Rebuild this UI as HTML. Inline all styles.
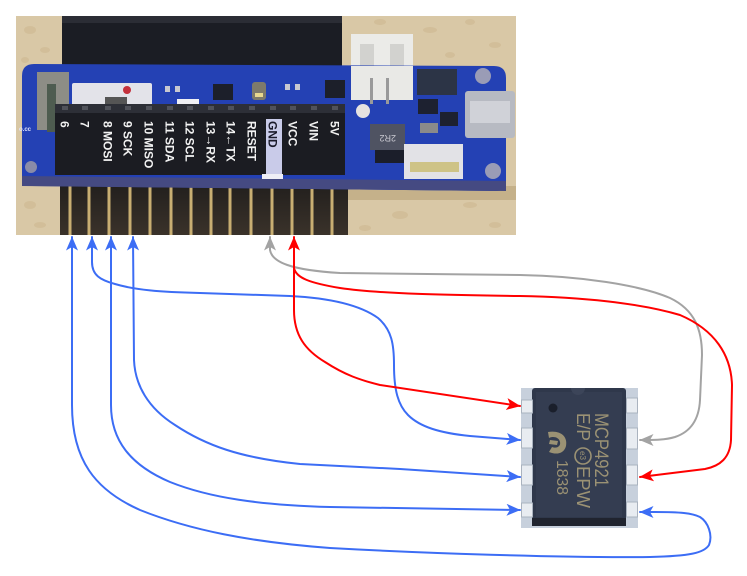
<!DOCTYPE html>
<html><head><meta charset="utf-8"><style>
html,body{margin:0;padding:0;background:#fff;}
svg{display:block;}
</style></head><body>
<svg width="747" height="576" viewBox="0 0 747 576" xmlns="http://www.w3.org/2000/svg" font-family="'Liberation Sans', sans-serif">
<defs>
 <marker id="mb" viewBox="0 0 14 12" refX="13.5" refY="6" markerWidth="14" markerHeight="12" markerUnits="userSpaceOnUse" orient="auto-start-reverse"><path d="M0,0 L14,6 L0,12 L3.5,6 Z" fill="#3c6df5"/></marker>
 <marker id="mr" viewBox="0 0 14 12" refX="13.5" refY="6" markerWidth="14" markerHeight="12" markerUnits="userSpaceOnUse" orient="auto-start-reverse"><path d="M0,0 L14,6 L0,12 L3.5,6 Z" fill="#ff0000"/></marker>
 <marker id="mg" viewBox="0 0 14 12" refX="13.5" refY="6" markerWidth="14" markerHeight="12" markerUnits="userSpaceOnUse" orient="auto-start-reverse"><path d="M0,0 L14,6 L0,12 L3.5,6 Z" fill="#a3a3a3"/></marker>
 <clipPath id="ph"><rect x="16" y="16" width="500" height="219"/></clipPath>
 <linearGradient id="pinbg" x1="0" y1="0" x2="0" y2="1"><stop offset="0" stop-color="#221f1d"/><stop offset="1" stop-color="#3a322a"/></linearGradient>
</defs>
<rect width="747" height="576" fill="#fff"/>

<!-- ===== PHOTO ===== -->
<g clip-path="url(#ph)">
 <rect x="16" y="16" width="500" height="219" fill="#d9c8a6"/>
 <g fill="#c6ad82" opacity="0.35">
  <ellipse cx="30" cy="30" rx="6" ry="4"/><ellipse cx="45" cy="50" rx="5" ry="3"/><ellipse cx="25" cy="60" rx="4" ry="3"/>
  <ellipse cx="380" cy="22" rx="6" ry="3"/><ellipse cx="430" cy="30" rx="7" ry="3"/><ellipse cx="470" cy="22" rx="5" ry="3"/>
  <ellipse cx="495" cy="45" rx="6" ry="3"/><ellipse cx="450" cy="55" rx="5" ry="3"/><ellipse cx="30" cy="205" rx="6" ry="4"/>
  <ellipse cx="40" cy="225" rx="6" ry="3"/><ellipse cx="400" cy="215" rx="8" ry="4"/><ellipse cx="470" cy="205" rx="7" ry="3"/>
  <ellipse cx="495" cy="225" rx="6" ry="3"/><ellipse cx="365" cy="228" rx="6" ry="3"/>
 </g>
 <!-- shadow right under board -->
 <rect x="345" y="186" width="171" height="14" fill="#bca77f" opacity="0.7"/>
 <!-- dark area behind pins -->
 <rect x="60" y="184" width="288" height="51" fill="url(#pinbg)"/>
 <g fill="#c8ae72">
  <rect x="68.5" y="186" width="3" height="49"/><rect x="87.5" y="186" width="3" height="49"/><rect x="107.5" y="186" width="3" height="49"/>
  <rect x="128.5" y="186" width="3" height="49"/><rect x="148.5" y="186" width="3" height="49"/><rect x="169.5" y="186" width="3" height="49"/>
  <rect x="189.5" y="186" width="3" height="49"/><rect x="209.5" y="186" width="3" height="49"/><rect x="228.5" y="186" width="3" height="49"/>
  <rect x="249.5" y="186" width="3" height="49"/><rect x="270.5" y="186" width="3" height="49"/><rect x="290.5" y="186" width="3" height="49"/>
  <rect x="310.5" y="186" width="3" height="49"/><rect x="330.5" y="186" width="3" height="49"/>
 </g>
 <!-- black top header block -->
 <rect x="62" y="16" width="280" height="66" fill="#1b1d24"/>
 <rect x="62" y="16" width="280" height="7" fill="#2b2d35"/>
 <!-- white JST connector -->
 <rect x="351" y="34" width="62" height="66" fill="#ebebe8"/>
 <rect x="360" y="44" width="14" height="22" fill="#d2d2cf"/><rect x="390" y="44" width="14" height="22" fill="#d2d2cf"/>
 <rect x="355" y="70" width="54" height="6" fill="#dcdcd8"/>
 <!-- board -->
 <path d="M34,64 L494,66 Q506,66 506,78 L506,182 Q506,191 496,191 L32,186 Q22,186 22,176 L22,76 Q22,64 34,64 Z" fill="#2441b4"/>
 <polygon points="22,176 506,181 506,191 22,186" fill="#454a82"/>
 <!-- JST overlapping board -->
 <rect x="351" y="66" width="62" height="34" fill="#e9e9e6"/>
 <rect x="370" y="78" width="3" height="26" fill="#9a9a9a"/><rect x="386" y="78" width="3" height="26" fill="#9a9a9a"/>
 <!-- left switch -->
 <rect x="37" y="72" width="32" height="58" fill="#8d8d86"/>
 <rect x="47" y="84" width="9" height="48" fill="#4e5c50"/>
 <circle cx="31" cy="167" r="6" fill="#8a8ca8"/>
 <text x="19" y="131" font-size="6" fill="#e0e4ff" font-weight="bold">o.cc</text>
 <!-- ublox module -->
 <rect x="72" y="83" width="80" height="23" rx="2" fill="#e3e3e9"/>
 <circle cx="127" cy="90" r="4" fill="#c3303c"/>
 <rect x="105" y="97" width="22" height="7" fill="#555"/>
 <!-- small parts -->
 <rect x="177" y="99" width="22" height="7" fill="#f0f0f4"/>
 <rect x="165" y="86" width="5" height="6" fill="#c8c8d0"/><rect x="175" y="86" width="5" height="6" fill="#c8c8d0"/>
 <rect x="213" y="84" width="20" height="16" fill="#1c1f2a"/>
 <rect x="252" y="82" width="14" height="18" rx="3" fill="#7d7a6c"/><rect x="255" y="93" width="8" height="4" fill="#e8d890"/>
 <rect x="285" y="84" width="5" height="6" fill="#c8c8d0"/><rect x="295" y="84" width="5" height="6" fill="#c8c8d0"/>
 <rect x="325" y="80" width="20" height="18" fill="#1c1f2a"/>
 <!-- right side parts -->
 <rect x="417" y="69" width="40" height="26" fill="#2c3446"/>
 <circle cx="483" cy="76" r="8" fill="#9a9cb6"/>
 <circle cx="493" cy="171" r="8" fill="#9a9cb6"/>
 <circle cx="363" cy="111" r="7" fill="#e6e2e0"/>
 <rect x="418" y="99" width="20" height="15" fill="#1d2130"/>
 <rect x="440" y="112" width="18" height="14" fill="#1d2130"/>
 <rect x="420" y="123" width="18" height="10" fill="#8a8a8a"/>
 <rect x="465" y="91" width="50" height="47" rx="3" fill="#b7bac2"/>
 <rect x="470" y="101" width="40" height="22" fill="#d0d2d8"/>
 <rect x="370" y="124" width="35" height="26" fill="#4f5362"/>
 <text x="378" y="141" font-size="9" fill="#c8c8d0" transform="rotate(180 387 138)">2R2</text>
 <rect x="375" y="150" width="30" height="13" fill="#1b1e2a"/>
 <rect x="404" y="144" width="59" height="35" fill="#e2e2e6"/>
 <rect x="410" y="162" width="49" height="10" fill="#cec386"/>
 <!-- female header on board -->
 <rect x="55" y="104" width="290" height="71" fill="#1b1c22"/>
 <rect x="55" y="104" width="290" height="9" fill="#2d2f37"/>
 <g fill="#50525a">
  <rect x="62" y="106" width="6" height="4"/><rect x="82" y="106" width="6" height="4"/><rect x="105" y="106" width="6" height="4"/>
  <rect x="125" y="106" width="6" height="4"/><rect x="146" y="106" width="6" height="4"/><rect x="167" y="106" width="6" height="4"/>
  <rect x="187" y="106" width="6" height="4"/><rect x="208" y="106" width="6" height="4"/><rect x="228" y="106" width="6" height="4"/>
  <rect x="249" y="106" width="6" height="4"/><rect x="270" y="106" width="6" height="4"/><rect x="290" y="106" width="6" height="4"/>
  <rect x="311" y="106" width="6" height="4"/><rect x="332" y="106" width="6" height="4"/>
 </g>
 <rect x="266" y="119" width="16" height="58" fill="#c9cbe9"/>
 <rect x="262" y="174" width="21" height="5" fill="#eeeef6"/>
 <g font-size="12" font-weight="bold" fill="#f2f2f2">
  <text transform="translate(60.5,121) rotate(90)">6</text>
  <text transform="translate(80.5,121) rotate(90)">7</text>
  <text transform="translate(103.5,121) rotate(90)">8 MOSI</text>
  <text transform="translate(123.5,121) rotate(90)">9 SCK</text>
  <text transform="translate(144.5,121) rotate(90)">10 MISO</text>
  <text transform="translate(165.5,121) rotate(90)">11 SDA</text>
  <text transform="translate(185.5,121) rotate(90)">12 SCL</text>
  <text transform="translate(206.5,121) rotate(90)">13→RX</text>
  <text transform="translate(226.5,121) rotate(90)">14←TX</text>
  <text transform="translate(247.5,121) rotate(90)">RESET</text>
  <text transform="translate(268.5,121) rotate(90)" fill="#1a1a2a">GND</text>
  <text transform="translate(288.5,121) rotate(90)">VCC</text>
  <text transform="translate(309.5,121) rotate(90)">VIN</text>
  <text transform="translate(330.5,121) rotate(90)">5V</text>
 </g>
</g>

<!-- ===== CHIP ===== -->
<rect x="521" y="388" width="117" height="140" fill="#c7d0dc"/>
<rect x="532" y="388" width="94" height="138" rx="3" fill="#2f384b"/>
<rect x="536" y="392" width="86" height="125" fill="#343d51"/>
<rect x="532" y="518" width="94" height="8" fill="#20242f"/>
<path d="M571,388 A7,7 0 0 0 585,388 Z" fill="#3c4559"/>
<g fill="#e8ecf1" stroke="#aab3bf" stroke-width="1">
 <rect x="521.5" y="400" width="11" height="13"/><rect x="521.5" y="428" width="11" height="20"/>
 <rect x="521.5" y="465" width="11" height="20"/><rect x="521.5" y="503" width="11" height="14"/>
 <rect x="626.5" y="398" width="11" height="15"/><rect x="626.5" y="428" width="11" height="21"/>
 <rect x="626.5" y="465" width="11" height="20"/><rect x="626.5" y="502" width="11" height="15"/>
</g>
<circle cx="553" cy="408" r="4.5" fill="#1a1f2b"/>
<g fill="#9b9274">
 <text transform="translate(595,413) rotate(90)" font-size="19" textLength="74" lengthAdjust="spacingAndGlyphs">MCP4921</text>
 <text transform="translate(577,413) rotate(90)" font-size="18" textLength="28" lengthAdjust="spacingAndGlyphs">E/P</text>
 <text transform="translate(577,466) rotate(90)" font-size="18" textLength="42" lengthAdjust="spacingAndGlyphs">EPW</text>
 <text transform="translate(557,460) rotate(90)" font-size="16" textLength="35" lengthAdjust="spacingAndGlyphs">1838</text>
 <text transform="translate(580,451) rotate(90)" font-size="8">e3</text>
 <path d="M548,432 C560,430 568,436 566,446 C564,454 556,455 549,452 L552,447 C557,449 561,446 560,442 C559,437 553,436 549,438 Z"/>
 <path d="M550,440 L558,441 L557,445 L549,444 Z"/>
</g>
<circle cx="583" cy="456" r="8" fill="none" stroke="#9b9274" stroke-width="1.6"/>

<!-- ===== WIRES ===== -->
<g fill="none" stroke-width="2" stroke-linejoin="round" stroke-linecap="round">
 <path stroke="#3c6df5" marker-start="url(#mb)" marker-end="url(#mb)" d="M72,237 L72,405 C72,460 95,490 140,510 C190,530 250,542 330,548 C420,553 560,558 650,557 C690,556 704,553 709,545 C713,535 708,522 700,517 C692,513 680,512 655,512 L640,512"/>
 <path stroke="#3c6df5" marker-start="url(#mb)" marker-end="url(#mb)" d="M92,237 L92,262 C92,275 100,280 115,284 C135,290 160,292 200,293 L290,296 C330,298 360,305 378,318 C392,330 394,345 394,365 C394,390 398,405 408,415 C420,427 440,433 470,436 L520,440"/>
 <path stroke="#3c6df5" marker-start="url(#mb)" marker-end="url(#mb)" d="M111,237 L111,405 C111,440 130,465 170,482 C210,498 260,505 330,507 L520,510"/>
 <path stroke="#3c6df5" marker-start="url(#mb)" marker-end="url(#mb)" d="M133,237 L134,360 C135,385 148,408 175,425 C205,445 240,458 300,464 L400,469 L520,477"/>
 <path stroke="#a3a3a3" marker-start="url(#mg)" marker-end="url(#mg)" d="M270,237 L270,250 C272,262 290,270 340,273 L520,275 C580,276 640,285 670,298 C695,310 702,330 702,355 L700,400 C699,420 690,432 675,437 C665,440 655,440 640,440"/>
 <path stroke="#ff0000" marker-start="url(#mr)" marker-end="url(#mr)" d="M294,237 L294,268 C296,278 310,283 340,288 C380,294 450,295 520,296 C580,297 640,303 680,315 C715,330 731,355 732,385 L731,440 C730,458 720,466 705,469 L640,477"/>
 <path stroke="#ff0000" marker-end="url(#mr)" d="M294,268 L294,310 C294,335 305,350 325,362 C345,375 360,380 380,385 L520,406"/>
</g>
</svg>
</body></html>
